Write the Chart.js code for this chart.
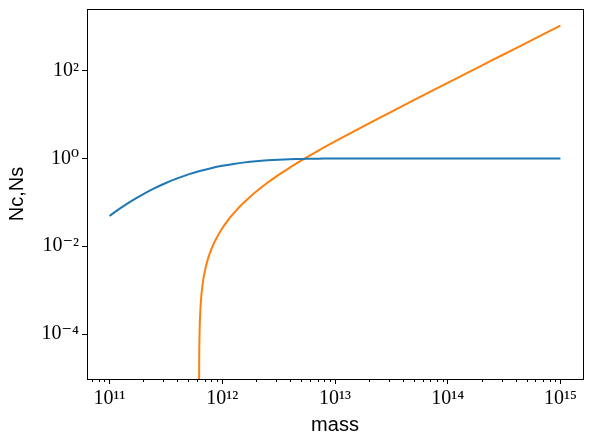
<!DOCTYPE html>
<html>
<head>
<meta charset="utf-8">
<title>Nc, Ns vs mass</title>
<script src="https://cdn.jsdelivr.net/npm/chart.js@4.4.0/dist/chart.umd.min.js"></script>
<style>
    html, body { margin: 0; padding: 0; background: #ffffff; }
    canvas { display: block; }
</style>
</head>
<body>
<canvas id="hodChart" width="593" height="445"></canvas>
<script>
// Nc (central)
var ncMass = [1.000e11, 1.259e11, 1.585e11, 1.995e11, 2.512e11, 3.162e11, 3.981e11, 5.012e11,
    6.310e11, 7.943e11, 1.000e12, 1.259e12, 1.585e12, 1.995e12, 2.512e12, 3.162e12, 3.981e12,
    5.012e12, 6.310e12, 7.943e12, 1.000e13, 1.585e13, 3.162e13, 1.000e14, 1.000e15];
var ncValues = [0.049, 0.075, 0.110, 0.154, 0.210, 0.276, 0.351, 0.433,
    0.517, 0.600, 0.680, 0.751, 0.814, 0.865, 0.906, 0.937, 0.959,
    0.974, 0.985, 0.991, 0.995, 0.9985, 0.9999, 1.0, 1.0];

// Ns (satellites)
var nsMass = [6.225e11, 6.24e11, 6.27e11, 6.32e11, 6.4e11, 6.55e11, 6.8e11, 7.2e11, 7.8e11,
    8.6e11, 1.0e12, 1.1e12, 1.2e12, 1.35e12, 1.5e12, 1.75e12, 2.0e12, 2.5e12, 3.0e12, 3.5e12,
    4.0e12, 5.0e12, 7.0e12, 1.0e13, 1.5e13, 2.0e13, 3.0e13, 5.0e13, 1.0e14, 2.0e14, 3.0e14,
    5.0e14, 1.0e15];
var nsValues = [3.5e-6, 2.13e-5, 7.02e-5, 1.74e-4, 3.77e-4, 8.43e-4, 1.80e-3, 3.69e-3, 7.23e-3,
    0.0130, 0.0257, 0.0364, 0.0484, 0.0683, 0.0903, 0.131, 0.176, 0.275, 0.384, 0.500,
    0.625, 0.889, 1.47, 2.44, 4.27, 6.30, 10.84, 21.3, 52.8, 130.5, 221.6,
    430.5, 1061];

// ticks
var xTickValues = [1e11, 1e12, 1e13, 1e14, 1e15];
var xTickLabels = ['10\u00b9\u00b9', '10\u00b9\u00b2', '10\u00b9\u00b3', '10\u00b9\u2074', '10\u00b9\u2075'];
var yTickValues = [1e-4, 1e-2, 1, 1e2];
var yTickLabels = ['10\u207b\u2074', '10\u207b\u00b2', '10\u2070', '10\u00b2'];

function toPoints(xs, ys) {
    var pts = [];
    for (var i = 0; i < xs.length; i++) {
        pts.push({ x: xs[i], y: ys[i] });
    }
    return pts;
}

// frame + minor ticks on the mass axis
var framePlugin = {
    id: 'frame',
    afterDraw: function(chart) {
        var ctx = chart.ctx;
        var area = chart.chartArea;
        var xs = chart.scales.x;
        ctx.save();
        ctx.strokeStyle = '#000000';
        ctx.lineWidth = 1;
        ctx.beginPath();
        for (var p = 10; p <= 15; p++) {
            for (var k = 2; k <= 9; k++) {
                var v = k * Math.pow(10, p);
                if (v < xs.min || v > xs.max) continue;
                var px = Math.round(xs.getPixelForValue(v)) + 0.5;
                ctx.moveTo(px, area.bottom);
                ctx.lineTo(px, area.bottom + 3);
            }
        }
        ctx.stroke();
        ctx.strokeRect(Math.round(area.left) + 0.5, Math.round(area.top) + 0.5,
            Math.round(area.right - area.left), Math.round(area.bottom - area.top));
        ctx.restore();
    }
};

var tickFont = { family: "'Liberation Serif', 'DejaVu Serif', serif", size: 20 };
var titleFont = { family: "'Liberation Sans', Arial, sans-serif", size: 20 };

new Chart(document.getElementById('hodChart'), {
    type: 'line',
    data: {
        datasets: [{
            label: 'Nc',
            data: toPoints(ncMass, ncValues),
            borderColor: '#1f77b4',
            borderWidth: 2,
            pointRadius: 0,
            fill: false,
            tension: 0.4
        }, {
            label: 'Ns',
            data: toPoints(nsMass, nsValues),
            borderColor: '#ff7f0e',
            borderWidth: 2,
            pointRadius: 0,
            fill: false,
            cubicInterpolationMode: 'monotone'
        }]
    },
    options: {
        responsive: false,
        animation: false,
        devicePixelRatio: 1,
        layout: { padding: { top: 9, right: 10, left: 0, bottom: 0 } },
        plugins: {
            legend: { display: false },
            tooltip: { enabled: false }
        },
        scales: {
            x: {
                type: 'logarithmic',
                min: Math.pow(10, 10.8),
                max: Math.pow(10, 15.2),
                afterBuildTicks: function(scale) {
                    scale.ticks = xTickValues.map(function(v) { return { value: v }; });
                },
                afterFit: function(scale) {
                    scale.height = 66;
                    scale.paddingLeft = 0;
                    scale.paddingRight = 0;
                },
                grid: { drawOnChartArea: false, drawTicks: true, tickLength: 5, color: '#000000', lineWidth: 1 },
                border: { display: true, color: '#000000', width: 1 },
                ticks: {
                    autoSkip: false,
                    maxRotation: 0,
                    padding: 3,
                    color: '#000000',
                    font: tickFont,
                    callback: function(value, index) { return xTickLabels[index]; }
                },
                title: {
                    display: true,
                    text: 'mass',
                    color: '#000000',
                    font: titleFont,
                    padding: { top: 0, bottom: 8 }
                }
            },
            y: {
                type: 'logarithmic',
                min: Math.pow(10, -5.025),
                max: Math.pow(10, 3.405),
                afterBuildTicks: function(scale) {
                    scale.ticks = yTickValues.map(function(v) { return { value: v }; });
                },
                afterFit: function(scale) {
                    scale.width = 87;
                    scale.paddingTop = 0;
                    scale.paddingBottom = 0;
                },
                grid: { drawOnChartArea: false, drawTicks: true, tickLength: 5, color: '#000000', lineWidth: 1 },
                border: { display: true, color: '#000000', width: 1 },
                ticks: {
                    autoSkip: false,
                    padding: 3,
                    color: '#000000',
                    font: tickFont,
                    callback: function(value, index) { return yTickLabels[index]; }
                },
                title: {
                    display: true,
                    text: 'Nc,Ns',
                    color: '#000000',
                    font: titleFont,
                    padding: { top: 5, bottom: 0 }
                }
            }
        }
    },
    plugins: [framePlugin]
});
</script>
</body>
</html>
